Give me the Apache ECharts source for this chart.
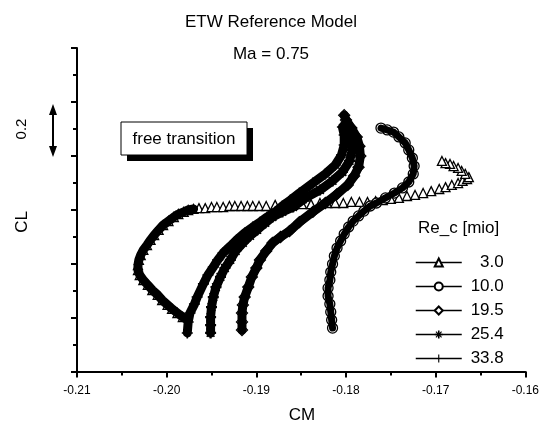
<!DOCTYPE html>
<html><head><meta charset="utf-8">
<script src="https://cdn.jsdelivr.net/npm/echarts@6/dist/echarts.min.js"></script>
<style>html,body{margin:0;padding:0;background:#fff}#c{width:542px;height:423px}</style>
</head><body><div id="c"></div>
<script>
const FONT = "'Liberation Sans', Arial, Helvetica, sans-serif";
const reLabels = ['3.0', '10.0', '19.5', '25.4', '33.8'];
const cmTicks = [-0.21, -0.20, -0.19, -0.18, -0.17, -0.16];
const clRange = [0, 1.2];

// Re_c = 3.0 : dense loop part (first 26 points) then sparse triangle branch
const re3_0 = [
  [-0.1982,0.202],[-0.1988,0.217],[-0.1994,0.232],[-0.1999,0.247],[-0.2005,0.265],[-0.2010,0.284],
  [-0.2016,0.302],[-0.2021,0.321],[-0.2026,0.339],[-0.2030,0.358],[-0.2032,0.376],[-0.2032,0.395],
  [-0.2031,0.414],[-0.2029,0.432],[-0.2026,0.451],[-0.2022,0.469],[-0.2018,0.488],[-0.2014,0.506],
  [-0.2009,0.525],[-0.2004,0.543],[-0.1998,0.558],[-0.1992,0.573],[-0.1987,0.584],[-0.1981,0.592],
  [-0.1976,0.599],[-0.1970,0.603],
  [-0.1964,0.606],[-0.1957,0.606],[-0.1950,0.610],[-0.1944,0.610],[-0.1937,0.610],[-0.1930,0.614],
  [-0.1924,0.614],[-0.1917,0.614],[-0.1910,0.614],[-0.1904,0.614],[-0.1897,0.614],[-0.1889,0.614],
  [-0.1879,0.618],[-0.1869,0.618],[-0.1859,0.618],[-0.1849,0.621],[-0.1839,0.621],[-0.1829,0.625],
  [-0.1821,0.625],[-0.1812,0.625],[-0.1803,0.625],[-0.1794,0.629],[-0.1785,0.629],[-0.1776,0.629],
  [-0.1767,0.632],[-0.1759,0.636],[-0.1750,0.640],[-0.1741,0.644],[-0.1732,0.651],[-0.1723,0.655],
  [-0.1714,0.662],[-0.1705,0.669],[-0.1696,0.677],[-0.1689,0.684],[-0.1682,0.692],[-0.1675,0.699],
  [-0.1670,0.707],[-0.1665,0.714],[-0.1663,0.721],[-0.1667,0.733],[-0.1671,0.744],[-0.1675,0.755],
  [-0.1680,0.762],[-0.1684,0.770],[-0.1689,0.773],[-0.1693,0.781]
];
const re3_0_loopCount = 26;

const re10_0 = [
  [-0.1815,0.161],[-0.1816,0.191],[-0.1817,0.221],[-0.1818,0.250],[-0.1820,0.280],[-0.1820,0.310],
  [-0.1818,0.339],[-0.1817,0.369],[-0.1815,0.399],[-0.1813,0.428],[-0.1810,0.458],[-0.1806,0.484],
  [-0.1802,0.510],[-0.1797,0.536],[-0.1792,0.558],[-0.1786,0.577],[-0.1780,0.595],[-0.1773,0.614],
  [-0.1766,0.625],[-0.1756,0.644],[-0.1746,0.662],[-0.1737,0.681],[-0.1730,0.703],[-0.1725,0.733],
  [-0.1724,0.762],[-0.1726,0.792],[-0.1730,0.822],[-0.1734,0.848],[-0.1741,0.870],[-0.1747,0.888],
  [-0.1754,0.896],[-0.1761,0.903]
];

const re19_5 = [
  [-0.1916,0.154],[-0.1916,0.184],[-0.1916,0.217],[-0.1915,0.247],[-0.1913,0.276],[-0.1909,0.313],
  [-0.1905,0.351],[-0.1900,0.384],[-0.1896,0.414],[-0.1889,0.447],[-0.1882,0.477],[-0.1873,0.499],
  [-0.1863,0.521],[-0.1852,0.554],[-0.1837,0.592],[-0.1823,0.625],[-0.1810,0.658],[-0.1798,0.692],
  [-0.1791,0.725],[-0.1786,0.758],[-0.1784,0.799],[-0.1785,0.836],[-0.1788,0.870],[-0.1794,0.903],
  [-0.1800,0.933],[-0.1802,0.951]
];

const re25_4 = [
  [-0.1951,0.143],[-0.1951,0.172],[-0.1951,0.202],[-0.1950,0.239],[-0.1948,0.276],[-0.1945,0.313],
  [-0.1940,0.351],[-0.1935,0.384],[-0.1929,0.414],[-0.1923,0.447],[-0.1915,0.477],[-0.1907,0.503],
  [-0.1899,0.525],[-0.1890,0.551],[-0.1882,0.573],[-0.1871,0.592],[-0.1859,0.610],[-0.1845,0.644],
  [-0.1829,0.673],[-0.1815,0.707],[-0.1804,0.740],[-0.1796,0.781],[-0.1793,0.822],[-0.1794,0.859],
  [-0.1797,0.892],[-0.1800,0.922]
];

const re33_8 = [
  [-0.1977,0.143],[-0.1976,0.184],[-0.1974,0.217],[-0.1969,0.250],[-0.1966,0.276],[-0.1959,0.325],
  [-0.1954,0.358],[-0.1948,0.388],[-0.1943,0.414],[-0.1937,0.440],[-0.1929,0.465],[-0.1922,0.488],
  [-0.1913,0.514],[-0.1904,0.536],[-0.1896,0.554],[-0.1888,0.573],[-0.1879,0.592],[-0.1871,0.614],
  [-0.1862,0.636],[-0.1852,0.662],[-0.1837,0.699],[-0.1823,0.733],[-0.1812,0.766],[-0.1805,0.803],
  [-0.1802,0.840],[-0.1802,0.877],[-0.1804,0.907]
];

const starPath = 'path://M4,0H6V3L8,1L9,2L7,4H10V6H7L9,8L8,9L6,7V10H4V7L2,9L1,8L3,6H0V4H3L1,2L2,1L4,3Z';
const plusPath = 'path://M4.3,0H5.7V4.3H10V5.7H5.7V10H4.3V5.7H0V4.3H4.3Z';

const hollow = {color:'#fff', borderColor:'#000', borderWidth:1.3};
function mainSeries(name, data, symbol, size, itemStyle) {
  return {name, type:'line', data, symbol, symbolSize:size, showAllSymbol:true,
    lineStyle:{width:0, color:'#000'}, itemStyle, z:3, silent:true};
}
function overlay(data, width) {
  return {name:'_ov', type:'line', data, symbol:'none', lineStyle:{width, color:'#000', cap:'round', join:'round'}, z:4, silent:true};
}

const chart = echarts.init(document.getElementById('c'), null, {renderer:'canvas'});
chart.setOption({
  animation:false,
  backgroundColor:'#fff',
  title:[
    {text:'ETW Reference Model', left:'center', top:9, textStyle:{fontFamily:FONT, fontSize:17, fontWeight:'normal', color:'#000'}},
    {text:'Ma = 0.75', left:'center', top:41, textStyle:{fontFamily:FONT, fontSize:17, fontWeight:'normal', color:'#000'}},
    {text:'Re_c [mio]', left:413, top:215, textStyle:{fontFamily:FONT, fontSize:17, fontWeight:'normal', color:'#000'}}
  ],
  grid:{left:77, right:15, top:48, bottom:51.5, containLabel:false},
  xAxis:{type:'value', min:cmTicks[0], max:cmTicks[cmTicks.length-1], interval:0.01,
    axisLine:{onZero:false, lineStyle:{color:'#000', width:2}},
    axisTick:{show:true, length:6, inside:false, lineStyle:{color:'#000', width:2}},
    minorTick:{show:true, splitNumber:2, length:4, lineStyle:{color:'#000', width:2}},
    splitLine:{show:false}, minorSplitLine:{show:false},
    axisLabel:{color:'#000', fontFamily:FONT, fontSize:12, margin:13, formatter:v=>v.toFixed(2)}},
  yAxis:{type:'value', min:clRange[0], max:clRange[1], interval:0.2,
    axisLine:{onZero:false, lineStyle:{color:'#000', width:2}},
    axisTick:{show:true, length:6, inside:false, lineStyle:{color:'#000', width:2}},
    minorTick:{show:true, splitNumber:2, length:4, lineStyle:{color:'#000', width:2}},
    splitLine:{show:false}, minorSplitLine:{show:false},
    axisLabel:{show:false}},
  legend:{data:reLabels, orient:'vertical', left:410, top:249, itemGap:7, itemWidth:46, itemHeight:10,
    lineStyle:{width:1.5, color:'#000'},
    textStyle:{fontFamily:FONT, fontSize:17, color:'#000', rich:{a:{width:37, align:'right', fontSize:17, fontFamily:FONT, color:'#000'}}},
    formatter:'{a|{name}}', selectedMode:false},
  graphic:[
    {type:'rect', shape:{x:127, y:128, width:126, height:33}, style:{fill:'#000'}},
    {type:'rect', shape:{x:121, y:122, width:126, height:33}, style:{fill:'#fff', stroke:'#000', lineWidth:1}},
    {type:'text', x:184, y:139, style:{text:'free transition', font:'17px '+FONT, fill:'#000', align:'center', verticalAlign:'middle'}},
    {type:'line', shape:{x1:53, y1:112, x2:53, y2:149}, style:{stroke:'#000', lineWidth:2}},
    {type:'polygon', shape:{points:[[53,104],[49,115],[57,115]]}, style:{fill:'#000'}},
    {type:'polygon', shape:{points:[[53,157],[49,146],[57,146]]}, style:{fill:'#000'}},
    {type:'text', x:22, y:129, rotation:Math.PI/2, style:{text:'0.2', font:'15px '+FONT, fill:'#000', align:'center', verticalAlign:'middle'}},
    {type:'text', x:22, y:222, rotation:Math.PI/2, style:{text:'CL', font:'17px '+FONT, fill:'#000', align:'center', verticalAlign:'middle'}},
    {type:'text', x:302, y:415, style:{text:'CM', font:'17px '+FONT, fill:'#000', align:'center', verticalAlign:'middle'}}
  ],
  series:[
    mainSeries('3.0', re3_0, 'triangle', 9, hollow),
    mainSeries('10.0', re10_0, 'circle', 10, hollow),
    mainSeries('19.5', re19_5, 'diamond', 11, hollow),
    mainSeries('25.4', re25_4, starPath, 11, {color:'#000'}),
    mainSeries('33.8', re33_8, plusPath, 11, {color:'#000'}),
    overlay(re3_0.slice(0, re3_0_loopCount), 9),
    overlay(re10_0, 7),
    overlay(re19_5, 9),
    overlay(re25_4, 9),
    overlay(re33_8, 9)
  ]
});
</script></body></html>
